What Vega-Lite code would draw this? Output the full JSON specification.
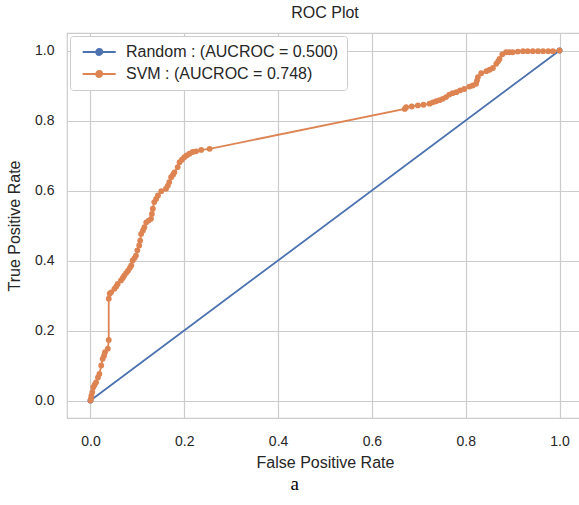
{
  "$schema": "https://vega.github.io/schema/vega-lite/v6.json",
  "padding": {"left": 5, "top": 4, "right": 0, "bottom": 0},
  "background": "white",
  "config": {
    "font": "Liberation Sans",
    "view": {"stroke": "#cccccc", "strokeWidth": 1.2},
    "axis": {
      "labelFont": "Liberation Sans",
      "titleFont": "Liberation Sans",
      "labelColor": "#262626",
      "titleColor": "#262626",
      "labelFontSize": 14,
      "titleFontSize": 16,
      "titleFontWeight": "normal",
      "gridColor": "#cccccc",
      "gridWidth": 1.2,
      "domain": false,
      "ticks": false
    }
  },
  "title": {
    "text": "a",
    "orient": "bottom",
    "anchor": "middle",
    "frame": "bounds",
    "font": "Liberation Serif",
    "fontSize": 19,
    "fontWeight": "normal",
    "color": "#000000",
    "offset": 4
  },
  "datasets": {
    "roc": [
      {"model": "Random : (AUCROC = 0.500)", "k": 0, "fpr": 0, "tpr": 0},
      {"model": "Random : (AUCROC = 0.500)", "k": 1, "fpr": 1, "tpr": 1},
      {"model": "SVM : (AUCROC = 0.748)", "k": 0, "fpr": 0, "tpr": 0},
      {"model": "SVM : (AUCROC = 0.748)", "k": 1, "fpr": 0.001, "tpr": 0.005},
      {"model": "SVM : (AUCROC = 0.748)", "k": 2, "fpr": 0.002, "tpr": 0.014},
      {"model": "SVM : (AUCROC = 0.748)", "k": 3, "fpr": 0.004, "tpr": 0.024},
      {"model": "SVM : (AUCROC = 0.748)", "k": 4, "fpr": 0.006, "tpr": 0.038},
      {"model": "SVM : (AUCROC = 0.748)", "k": 5, "fpr": 0.009, "tpr": 0.045},
      {"model": "SVM : (AUCROC = 0.748)", "k": 6, "fpr": 0.012, "tpr": 0.052},
      {"model": "SVM : (AUCROC = 0.748)", "k": 7, "fpr": 0.016, "tpr": 0.066},
      {"model": "SVM : (AUCROC = 0.748)", "k": 8, "fpr": 0.019, "tpr": 0.076},
      {"model": "SVM : (AUCROC = 0.748)", "k": 9, "fpr": 0.023, "tpr": 0.1},
      {"model": "SVM : (AUCROC = 0.748)", "k": 10, "fpr": 0.026, "tpr": 0.119},
      {"model": "SVM : (AUCROC = 0.748)", "k": 11, "fpr": 0.029, "tpr": 0.128},
      {"model": "SVM : (AUCROC = 0.748)", "k": 12, "fpr": 0.031, "tpr": 0.138},
      {"model": "SVM : (AUCROC = 0.748)", "k": 13, "fpr": 0.037, "tpr": 0.148},
      {"model": "SVM : (AUCROC = 0.748)", "k": 14, "fpr": 0.039, "tpr": 0.173},
      {"model": "SVM : (AUCROC = 0.748)", "k": 15, "fpr": 0.039, "tpr": 0.291},
      {"model": "SVM : (AUCROC = 0.748)", "k": 16, "fpr": 0.041, "tpr": 0.305},
      {"model": "SVM : (AUCROC = 0.748)", "k": 17, "fpr": 0.044, "tpr": 0.309},
      {"model": "SVM : (AUCROC = 0.748)", "k": 18, "fpr": 0.051, "tpr": 0.319},
      {"model": "SVM : (AUCROC = 0.748)", "k": 19, "fpr": 0.055, "tpr": 0.326},
      {"model": "SVM : (AUCROC = 0.748)", "k": 20, "fpr": 0.058, "tpr": 0.333},
      {"model": "SVM : (AUCROC = 0.748)", "k": 21, "fpr": 0.065, "tpr": 0.343},
      {"model": "SVM : (AUCROC = 0.748)", "k": 22, "fpr": 0.069, "tpr": 0.35},
      {"model": "SVM : (AUCROC = 0.748)", "k": 23, "fpr": 0.072, "tpr": 0.357},
      {"model": "SVM : (AUCROC = 0.748)", "k": 24, "fpr": 0.076, "tpr": 0.364},
      {"model": "SVM : (AUCROC = 0.748)", "k": 25, "fpr": 0.08, "tpr": 0.371},
      {"model": "SVM : (AUCROC = 0.748)", "k": 26, "fpr": 0.084, "tpr": 0.379},
      {"model": "SVM : (AUCROC = 0.748)", "k": 27, "fpr": 0.087, "tpr": 0.386},
      {"model": "SVM : (AUCROC = 0.748)", "k": 28, "fpr": 0.09, "tpr": 0.4},
      {"model": "SVM : (AUCROC = 0.748)", "k": 29, "fpr": 0.094, "tpr": 0.407},
      {"model": "SVM : (AUCROC = 0.748)", "k": 30, "fpr": 0.097, "tpr": 0.414},
      {"model": "SVM : (AUCROC = 0.748)", "k": 31, "fpr": 0.1, "tpr": 0.429},
      {"model": "SVM : (AUCROC = 0.748)", "k": 32, "fpr": 0.104, "tpr": 0.443},
      {"model": "SVM : (AUCROC = 0.748)", "k": 33, "fpr": 0.106, "tpr": 0.457},
      {"model": "SVM : (AUCROC = 0.748)", "k": 34, "fpr": 0.108, "tpr": 0.476},
      {"model": "SVM : (AUCROC = 0.748)", "k": 35, "fpr": 0.112, "tpr": 0.486},
      {"model": "SVM : (AUCROC = 0.748)", "k": 36, "fpr": 0.115, "tpr": 0.495},
      {"model": "SVM : (AUCROC = 0.748)", "k": 37, "fpr": 0.119, "tpr": 0.509},
      {"model": "SVM : (AUCROC = 0.748)", "k": 38, "fpr": 0.124, "tpr": 0.514},
      {"model": "SVM : (AUCROC = 0.748)", "k": 39, "fpr": 0.129, "tpr": 0.519},
      {"model": "SVM : (AUCROC = 0.748)", "k": 40, "fpr": 0.131, "tpr": 0.533},
      {"model": "SVM : (AUCROC = 0.748)", "k": 41, "fpr": 0.133, "tpr": 0.548},
      {"model": "SVM : (AUCROC = 0.748)", "k": 42, "fpr": 0.136, "tpr": 0.567},
      {"model": "SVM : (AUCROC = 0.748)", "k": 43, "fpr": 0.14, "tpr": 0.576},
      {"model": "SVM : (AUCROC = 0.748)", "k": 44, "fpr": 0.144, "tpr": 0.586},
      {"model": "SVM : (AUCROC = 0.748)", "k": 45, "fpr": 0.151, "tpr": 0.598},
      {"model": "SVM : (AUCROC = 0.748)", "k": 46, "fpr": 0.161, "tpr": 0.605},
      {"model": "SVM : (AUCROC = 0.748)", "k": 47, "fpr": 0.165, "tpr": 0.614},
      {"model": "SVM : (AUCROC = 0.748)", "k": 48, "fpr": 0.168, "tpr": 0.624},
      {"model": "SVM : (AUCROC = 0.748)", "k": 49, "fpr": 0.172, "tpr": 0.638},
      {"model": "SVM : (AUCROC = 0.748)", "k": 50, "fpr": 0.176, "tpr": 0.645},
      {"model": "SVM : (AUCROC = 0.748)", "k": 51, "fpr": 0.179, "tpr": 0.652},
      {"model": "SVM : (AUCROC = 0.748)", "k": 52, "fpr": 0.186, "tpr": 0.667},
      {"model": "SVM : (AUCROC = 0.748)", "k": 53, "fpr": 0.19, "tpr": 0.681},
      {"model": "SVM : (AUCROC = 0.748)", "k": 54, "fpr": 0.195, "tpr": 0.688},
      {"model": "SVM : (AUCROC = 0.748)", "k": 55, "fpr": 0.2, "tpr": 0.695},
      {"model": "SVM : (AUCROC = 0.748)", "k": 56, "fpr": 0.205, "tpr": 0.7},
      {"model": "SVM : (AUCROC = 0.748)", "k": 57, "fpr": 0.211, "tpr": 0.705},
      {"model": "SVM : (AUCROC = 0.748)", "k": 58, "fpr": 0.218, "tpr": 0.71},
      {"model": "SVM : (AUCROC = 0.748)", "k": 59, "fpr": 0.225, "tpr": 0.712},
      {"model": "SVM : (AUCROC = 0.748)", "k": 60, "fpr": 0.236, "tpr": 0.716},
      {"model": "SVM : (AUCROC = 0.748)", "k": 61, "fpr": 0.254, "tpr": 0.719},
      {"model": "SVM : (AUCROC = 0.748)", "k": 62, "fpr": 0.67, "tpr": 0.833},
      {"model": "SVM : (AUCROC = 0.748)", "k": 63, "fpr": 0.673, "tpr": 0.838},
      {"model": "SVM : (AUCROC = 0.748)", "k": 64, "fpr": 0.685, "tpr": 0.84},
      {"model": "SVM : (AUCROC = 0.748)", "k": 65, "fpr": 0.698, "tpr": 0.843},
      {"model": "SVM : (AUCROC = 0.748)", "k": 66, "fpr": 0.71, "tpr": 0.845},
      {"model": "SVM : (AUCROC = 0.748)", "k": 67, "fpr": 0.723, "tpr": 0.848},
      {"model": "SVM : (AUCROC = 0.748)", "k": 68, "fpr": 0.73, "tpr": 0.852},
      {"model": "SVM : (AUCROC = 0.748)", "k": 69, "fpr": 0.737, "tpr": 0.855},
      {"model": "SVM : (AUCROC = 0.748)", "k": 70, "fpr": 0.744, "tpr": 0.858},
      {"model": "SVM : (AUCROC = 0.748)", "k": 71, "fpr": 0.751, "tpr": 0.862},
      {"model": "SVM : (AUCROC = 0.748)", "k": 72, "fpr": 0.758, "tpr": 0.867},
      {"model": "SVM : (AUCROC = 0.748)", "k": 73, "fpr": 0.765, "tpr": 0.874},
      {"model": "SVM : (AUCROC = 0.748)", "k": 74, "fpr": 0.772, "tpr": 0.878},
      {"model": "SVM : (AUCROC = 0.748)", "k": 75, "fpr": 0.78, "tpr": 0.881},
      {"model": "SVM : (AUCROC = 0.748)", "k": 76, "fpr": 0.788, "tpr": 0.886},
      {"model": "SVM : (AUCROC = 0.748)", "k": 77, "fpr": 0.797, "tpr": 0.89},
      {"model": "SVM : (AUCROC = 0.748)", "k": 78, "fpr": 0.808, "tpr": 0.897},
      {"model": "SVM : (AUCROC = 0.748)", "k": 79, "fpr": 0.815, "tpr": 0.9},
      {"model": "SVM : (AUCROC = 0.748)", "k": 80, "fpr": 0.822, "tpr": 0.905},
      {"model": "SVM : (AUCROC = 0.748)", "k": 81, "fpr": 0.824, "tpr": 0.914},
      {"model": "SVM : (AUCROC = 0.748)", "k": 82, "fpr": 0.826, "tpr": 0.924},
      {"model": "SVM : (AUCROC = 0.748)", "k": 83, "fpr": 0.833, "tpr": 0.935},
      {"model": "SVM : (AUCROC = 0.748)", "k": 84, "fpr": 0.844, "tpr": 0.941},
      {"model": "SVM : (AUCROC = 0.748)", "k": 85, "fpr": 0.851, "tpr": 0.945},
      {"model": "SVM : (AUCROC = 0.748)", "k": 86, "fpr": 0.858, "tpr": 0.95},
      {"model": "SVM : (AUCROC = 0.748)", "k": 87, "fpr": 0.865, "tpr": 0.962},
      {"model": "SVM : (AUCROC = 0.748)", "k": 88, "fpr": 0.869, "tpr": 0.969},
      {"model": "SVM : (AUCROC = 0.748)", "k": 89, "fpr": 0.872, "tpr": 0.976},
      {"model": "SVM : (AUCROC = 0.748)", "k": 90, "fpr": 0.878, "tpr": 0.989},
      {"model": "SVM : (AUCROC = 0.748)", "k": 91, "fpr": 0.886, "tpr": 0.995},
      {"model": "SVM : (AUCROC = 0.748)", "k": 92, "fpr": 0.893, "tpr": 0.995},
      {"model": "SVM : (AUCROC = 0.748)", "k": 93, "fpr": 0.9, "tpr": 0.995},
      {"model": "SVM : (AUCROC = 0.748)", "k": 94, "fpr": 0.911, "tpr": 0.997},
      {"model": "SVM : (AUCROC = 0.748)", "k": 95, "fpr": 0.922, "tpr": 0.998},
      {"model": "SVM : (AUCROC = 0.748)", "k": 96, "fpr": 0.932, "tpr": 0.998},
      {"model": "SVM : (AUCROC = 0.748)", "k": 97, "fpr": 0.943, "tpr": 0.998},
      {"model": "SVM : (AUCROC = 0.748)", "k": 98, "fpr": 0.954, "tpr": 0.998},
      {"model": "SVM : (AUCROC = 0.748)", "k": 99, "fpr": 0.965, "tpr": 0.998},
      {"model": "SVM : (AUCROC = 0.748)", "k": 100, "fpr": 0.976, "tpr": 0.998},
      {"model": "SVM : (AUCROC = 0.748)", "k": 101, "fpr": 0.986, "tpr": 0.998},
      {"model": "SVM : (AUCROC = 0.748)", "k": 102, "fpr": 1.0, "tpr": 1.0}
    ]
  },
  "vconcat": [
    {
      "width": 516,
      "height": 385,
      "title": {
        "text": "ROC Plot",
        "anchor": "middle",
        "frame": "group",
        "font": "Liberation Sans",
        "fontSize": 16,
        "fontWeight": "normal",
        "color": "#262626",
        "offset": 12
      },
      "data": {"name": "roc"},
      "mark": {
        "type": "line",
        "strokeWidth": 1.8,
        "clip": true,
        "point": {"filled": true, "size": 34, "opacity": 1}
      },
      "encoding": {
        "x": {
          "field": "fpr",
          "type": "quantitative",
          "scale": {"domain": [-0.05, 1.05], "nice": false, "zero": false},
          "axis": {
            "title": "False Positive Rate",
            "values": [0, 0.2, 0.4, 0.6, 0.8, 1.0],
            "format": ".1f",
            "labelPadding": 16,
            "titlePadding": 6
          }
        },
        "y": {
          "field": "tpr",
          "type": "quantitative",
          "scale": {"domain": [-0.05, 1.05], "nice": false, "zero": false},
          "axis": {
            "title": "True Positive Rate",
            "values": [0, 0.2, 0.4, 0.6, 0.8, 1.0],
            "format": ".1f",
            "labelPadding": 13,
            "titlePadding": 12
          }
        },
        "order": {"field": "k", "type": "quantitative"},
        "color": {
          "field": "model",
          "type": "nominal",
          "scale": {
            "domain": ["Random : (AUCROC = 0.500)", "SVM : (AUCROC = 0.748)"],
            "range": ["#4C72B0", "#DD8452"]
          },
          "legend": {
            "title": null,
            "orient": "top-left",
            "offset": 3,
            "fillColor": "white",
            "strokeColor": "#cccccc",
            "cornerRadius": 3,
            "padding": 8,
            "labelFont": "Liberation Sans",
            "labelFontSize": 16,
            "labelColor": "#262626",
            "labelLimit": 400,
            "labelOffset": 32,
            "rowPadding": 6,
            "symbolType": "M-0.6,0H5.4M1.85,0A0.55,0.55,0,1,1,2.95,0A0.55,0.55,0,1,1,1.85,0Z",
            "symbolSize": 121,
            "symbolStrokeWidth": 1.8,
            "encode": {
              "symbols": {
                "update": {
                  "fill": {"scale": "color", "field": "value"},
                  "stroke": {"scale": "color", "field": "value"}
                }
              }
            }
          }
        }
      }
    }
  ]
}
